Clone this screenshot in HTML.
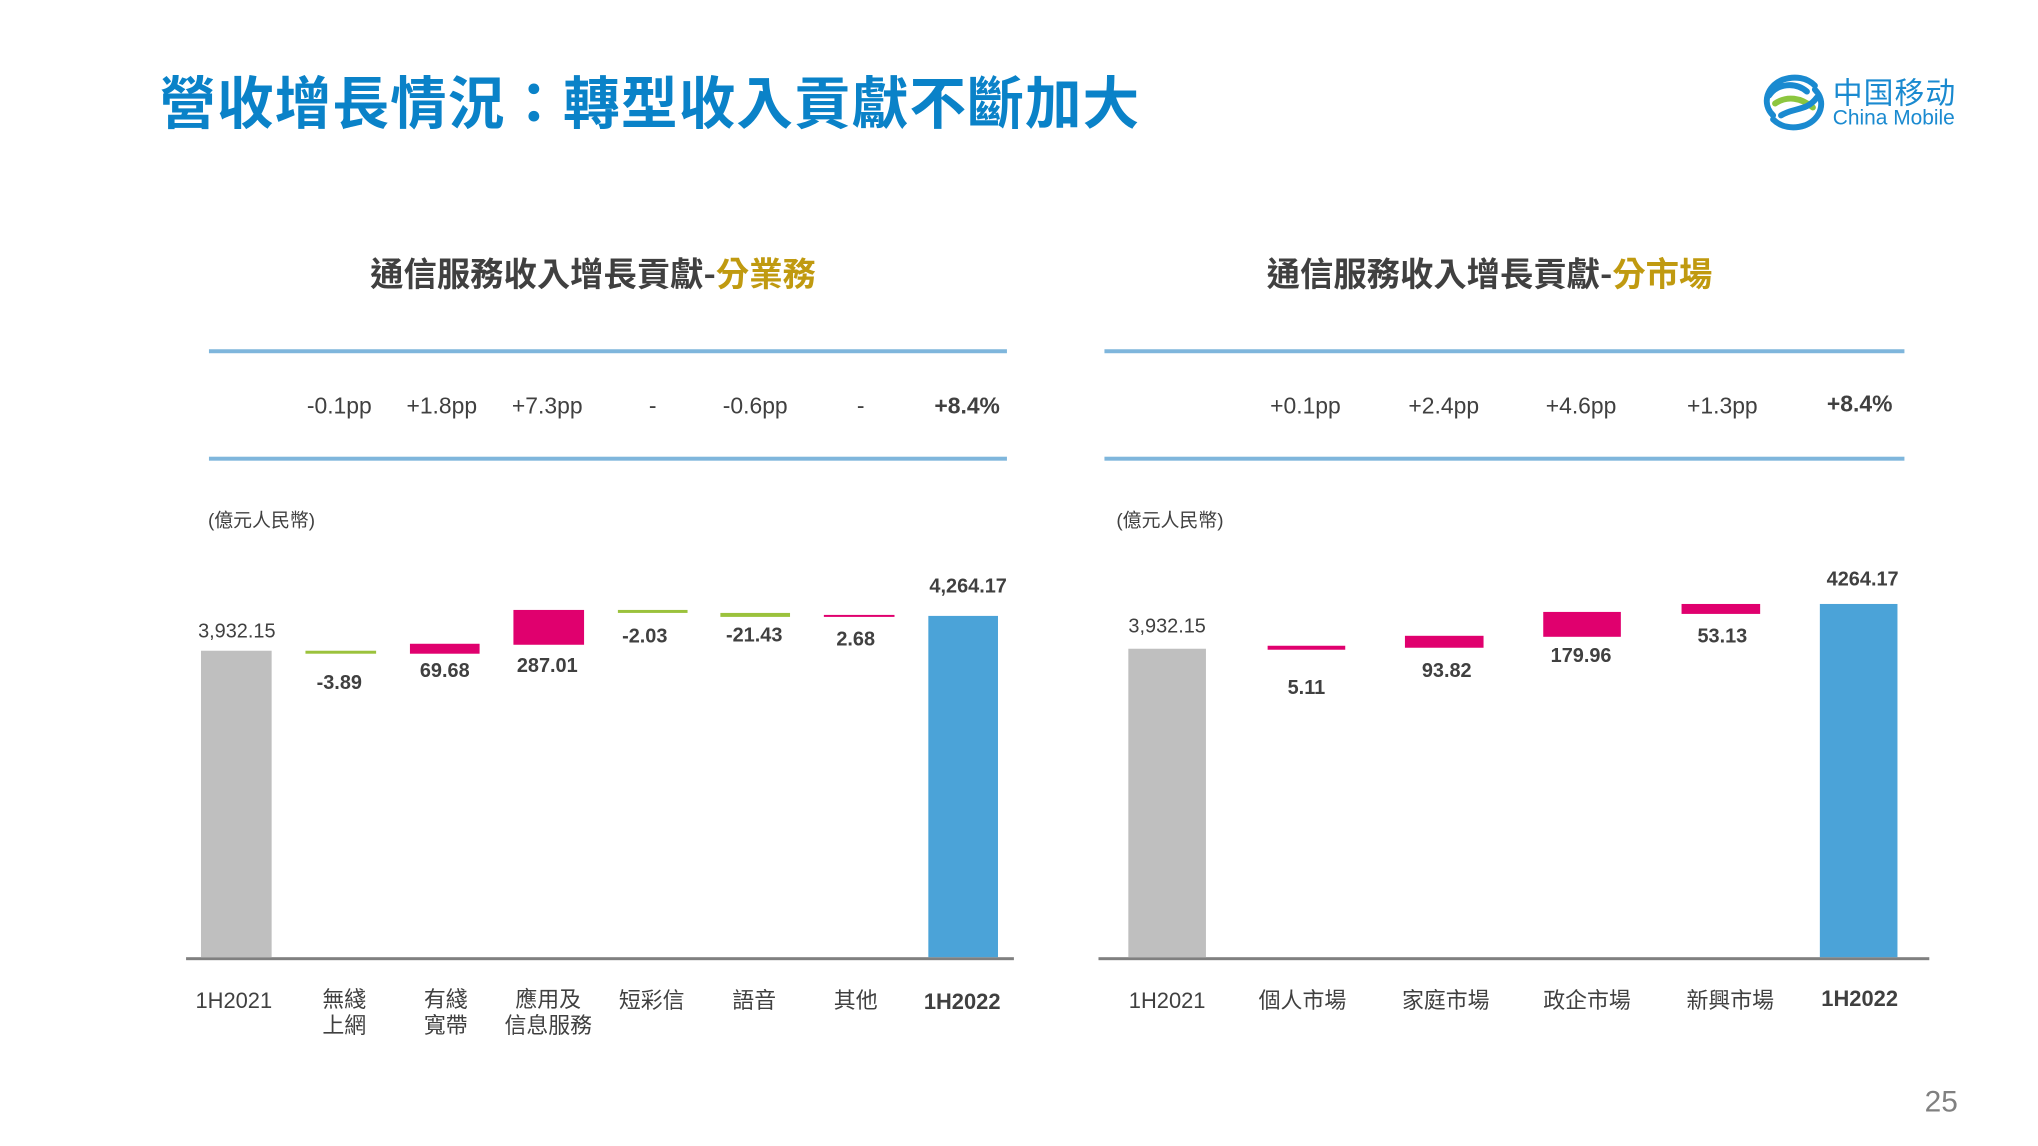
<!DOCTYPE html>
<html><head><meta charset="utf-8"><style>
body{margin:0;width:2038px;height:1146px;background:#fff;position:relative;overflow:hidden;font-family:"Liberation Sans","Noto Sans CJK TC",sans-serif;color:#404040}
#w{position:absolute;left:0;top:0;width:2038px;height:1146px;transform:scale(0.995);transform-origin:0 0}
.a{position:absolute}
.c{position:absolute;transform:translate(-50%,-50%);white-space:nowrap;text-align:center}
.b{position:absolute}
.pp{font-size:23px}
.v{font-size:20px;font-weight:bold}
.cat{font-size:22px;line-height:26px}
</style></head><body><div id="w">
<div class="a" style="left:160px;top:64px;font-size:57px;font-weight:bold;color:#0a82c8;letter-spacing:1px;font-family:'Noto Sans CJK TC',sans-serif;line-height:72px">營收增長情況：轉型收入貢獻不斷加大</div>
<svg class="a" style="left:1770px;top:68px" width="66" height="68" viewBox="0 0 66 68">
<g fill="none" stroke-width="6" stroke-linecap="round">
<path d="M12 48 C0 36 6 18 22 12 C34 8 46 10 54 18" stroke="#1a8ad0"/>
<path d="M8 28 C16 16 34 14 46 24" stroke="#1a8ad0"/>
<path d="M14 36 C26 28 40 30 52 40" stroke="#8cc63f"/>
<path d="M20 48 C32 40 46 44 56 30" stroke="#1a8ad0"/>
<path d="M54 22 C66 34 60 52 44 58 C32 62 20 60 12 52" stroke="#1a8ad0"/>
</g></svg>
<div class="a" style="left:1842px;top:72px;font-size:30px;color:#1a8ad0;font-family:'Noto Sans CJK SC',sans-serif;line-height:38px;letter-spacing:1px">中国移动</div>
<div class="a" style="left:1842px;top:106px;font-size:21px;color:#1a8ad0;line-height:26px">China Mobile</div>

<div class="c" style="left:596px;top:273px;font-size:33.5px;font-weight:bold;font-family:'Noto Sans CJK TC',sans-serif">通信服務收入增長貢獻-<span style="color:#c09a10">分業務</span></div>
<div class="c" style="left:1497px;top:273px;font-size:33.5px;font-weight:bold;font-family:'Noto Sans CJK TC',sans-serif">通信服務收入增長貢獻-<span style="color:#c09a10">分市場</span></div>

<div class="b" style="left:210px;top:351px;width:802px;height:4px;background:#7fb6dc"></div>
<div class="b" style="left:210px;top:459px;width:802px;height:4px;background:#7fb6dc"></div>
<div class="b" style="left:1110px;top:351px;width:804px;height:4px;background:#7fb6dc"></div>
<div class="b" style="left:1110px;top:459px;width:804px;height:4px;background:#7fb6dc"></div>

<div class="c pp" style="left:341px;top:408px">-0.1pp</div>
<div class="c pp" style="left:444px;top:408px">+1.8pp</div>
<div class="c pp" style="left:550px;top:408px">+7.3pp</div>
<div class="c pp" style="left:656px;top:408px">-</div>
<div class="c pp" style="left:759px;top:408px">-0.6pp</div>
<div class="c pp" style="left:865px;top:408px">-</div>
<div class="c pp" style="left:972px;top:408px;font-weight:bold">+8.4%</div>
<div class="c pp" style="left:1312px;top:408px">+0.1pp</div>
<div class="c pp" style="left:1451px;top:408px">+2.4pp</div>
<div class="c pp" style="left:1589px;top:408px">+4.6pp</div>
<div class="c pp" style="left:1731px;top:408px">+1.3pp</div>
<div class="c pp" style="left:1869px;top:406px;font-weight:bold">+8.4%</div>

<div class="a" style="left:209px;top:508px;font-size:19px">(億元人民幣)</div>
<div class="a" style="left:1122px;top:508px;font-size:19px">(億元人民幣)</div>

<div class="b" style="left:187px;top:962px;width:832px;height:3px;background:#808080"></div>
<div class="b" style="left:202px;top:654px;width:71px;height:308px;background:#bfbfbf"></div>
<div class="b" style="left:307px;top:654px;width:71px;height:3px;background:#9bc23c"></div>
<div class="b" style="left:412px;top:647px;width:70px;height:10px;background:#e0006e"></div>
<div class="b" style="left:516px;top:613px;width:71px;height:35px;background:#e0006e"></div>
<div class="b" style="left:621px;top:613px;width:70px;height:3px;background:#9bc23c"></div>
<div class="b" style="left:724px;top:616px;width:70px;height:4px;background:#9bc23c"></div>
<div class="b" style="left:828px;top:618px;width:71px;height:2px;background:#e0006e"></div>
<div class="b" style="left:933px;top:619px;width:70px;height:343px;background:#4ba3d8"></div>

<div class="c" style="left:238px;top:635px;font-size:20px">3,932.15</div>
<div class="c v" style="left:341px;top:687px">-3.89</div>
<div class="c v" style="left:447px;top:675px">69.68</div>
<div class="c v" style="left:550px;top:670px">287.01</div>
<div class="c v" style="left:648px;top:640px">-2.03</div>
<div class="c v" style="left:758px;top:639px">-21.43</div>
<div class="c v" style="left:860px;top:643px">2.68</div>
<div class="c v" style="left:973px;top:590px">4,264.17</div>

<div class="c cat" style="left:235px;top:1006px">1H2021</div>
<div class="c cat" style="left:346px;top:1018px">無綫<br>上網</div>
<div class="c cat" style="left:448px;top:1018px">有綫<br>寬帶</div>
<div class="c cat" style="left:551px;top:1018px">應用及<br>信息服務</div>
<div class="c cat" style="left:655px;top:1006px">短彩信</div>
<div class="c cat" style="left:758px;top:1006px">語音</div>
<div class="c cat" style="left:860px;top:1006px">其他</div>
<div class="c cat" style="left:967px;top:1007px;font-weight:bold">1H2022</div>

<div class="b" style="left:1104px;top:962px;width:835px;height:3px;background:#808080"></div>
<div class="b" style="left:1134px;top:652px;width:78px;height:310px;background:#bfbfbf"></div>
<div class="b" style="left:1274px;top:649px;width:78px;height:4px;background:#e0006e"></div>
<div class="b" style="left:1412px;top:639px;width:79px;height:12px;background:#e0006e"></div>
<div class="b" style="left:1551px;top:615px;width:78px;height:25px;background:#e0006e"></div>
<div class="b" style="left:1690px;top:607px;width:79px;height:10px;background:#e0006e"></div>
<div class="b" style="left:1829px;top:607px;width:78px;height:355px;background:#4ba3d8"></div>

<div class="c" style="left:1173px;top:630px;font-size:20px">3,932.15</div>
<div class="c v" style="left:1313px;top:692px">5.11</div>
<div class="c v" style="left:1454px;top:675px">93.82</div>
<div class="c v" style="left:1589px;top:660px">179.96</div>
<div class="c v" style="left:1731px;top:640px">53.13</div>
<div class="c v" style="left:1872px;top:583px">4264.17</div>

<div class="c cat" style="left:1173px;top:1006px">1H2021</div>
<div class="c cat" style="left:1309px;top:1006px">個人市場</div>
<div class="c cat" style="left:1453px;top:1006px">家庭市場</div>
<div class="c cat" style="left:1595px;top:1006px">政企市場</div>
<div class="c cat" style="left:1739px;top:1006px">新興市場</div>
<div class="c cat" style="left:1869px;top:1004px;font-weight:bold">1H2022</div>

<div class="c" style="left:1951px;top:1108px;font-size:30px;color:#808080">25</div>
</div></body></html>
